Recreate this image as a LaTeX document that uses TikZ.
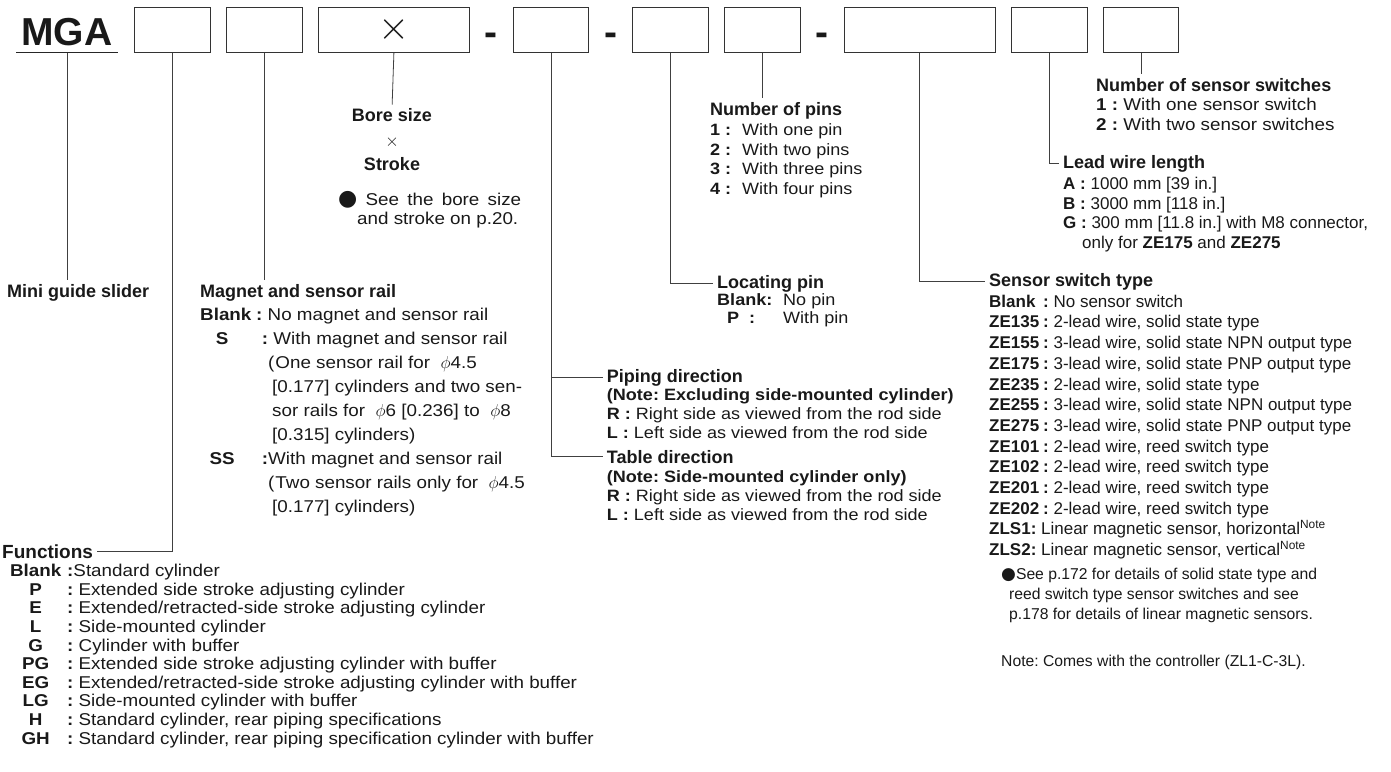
\documentclass[tikz,border=0pt]{standalone}
\usepackage{fontspec}
\setmainfont{Liberation Sans}
\newfontfamily\widefamily{Liberation Sans}[FakeStretch=1.1]
\newfontfamily\shapefont{DejaVu Sans}
\usetikzlibrary{positioning,calc}
\frenchspacing

\begin{document}
\begin{tikzpicture}[x=1pt, y=-1pt,
  every node/.style={text=black!90},
  codebox/.style={draw=black!80, line width=1pt, minimum width=75.5pt, minimum height=45pt, inner sep=0pt},
  widebox/.style={codebox, minimum width=151pt},
  sepmark/.style={font=\bfseries\fontsize{39}{39}\selectfont, inner sep=0pt, anchor=base},
  head/.style={font=\bfseries\fontsize{18}{20}\selectfont, anchor=base west, inner sep=0pt},
  list/.style={font=\widefamily\fontsize{16.4}{#1}\selectfont, align=left, anchor=north west, inner sep=0pt},
  list/.default=19,
  widelist/.style={list, font=\widefamily\fontsize{17.1}{#1}\selectfont},
  widelist/.default=19,
  smalllist/.style={list, font=\fontsize{17}{#1}\selectfont},
  smalllist/.default=20,
  conn/.style={draw=black!75, line width=0.8pt, shorten >=4pt}
]
\useasboundingbox (0,0) rectangle (1391,771);

% model code row
\node[font=\bfseries\fontsize{39}{39}\selectfont, anchor=base, inner xsep=5pt, inner ysep=0pt, text depth=7.3pt] (mga) at (67,45) {MGA};
\draw[line width=0.9pt, black!85] (mga.south west) -- (mga.south east);
\node[codebox] (b1) at (172.55,29.8) {};
\node[codebox, right=15.3pt of b1] (b2) {};
\node[widebox, right=15.3pt of b2] (b3) {\scalebox{4}{$\times$}};
\node[codebox, right=43pt of b3] (b4) {};
\node[codebox, right=43pt of b4] (b5) {};
\node[codebox, right=15.3pt of b5] (b6) {};
\node[widebox, right=43pt of b6] (b7) {};
\node[codebox, right=15.3pt of b7] (b8) {};
\node[codebox, right=15.3pt of b8] (b9) {};
\node[sepmark] (d1) at ($(b3.east)!0.5!(b4.west)+(0,15.2)$) {-};
\node[sepmark] (d2) at ($(b4.east)!0.5!(b5.west)+(0,15.2)$) {-};
\node[sepmark] (d3) at ($(b6.east)!0.5!(b7.west)+(0,15.2)$) {-};

% headings
\node[head] (slider) at (7,297) {Mini guide slider};
\node[head] (magnet) at (200,297) {Magnet and sensor rail};
\node[head, font=\bfseries\fontsize{19}{20}\selectfont] (functions) at (2,558) {Functions};
\node[head, anchor=north, align=center, font=\bfseries\fontsize{18}{24.5}\selectfont] (bore) at (392,108.5) {Bore size\\{\mdseries$\times$}\\Stroke};
\node[head] (piping) at (606.7,382) {Piping direction};
\node[head] (table) at (606.7,463) {Table direction};
\node[head] (locating) at (717,288) {Locating pin};
\node[head] (pins) at (710,115) {Number of pins};
\node[head] (sensor) at (989,286) {Sensor switch type};
\node[head] (lead) at (1063,168) {Lead wire length};
\node[head] (nsw) at (1096,91) {Number of sensor switches};

% lists
\node[below=11.3pt of magnet.base west, widelist=24] (maglist) {%
\makebox[56pt][l]{\bfseries Blank}\textbf{:} No magnet and sensor rail\\
\makebox[44pt][c]{\bfseries S}\makebox[24pt][r]{\textbf{:}} With magnet and sensor rail\\
\hspace*{68pt}(\hspace{1pt}One sensor rail for \ $\phi$4.5\\
\hspace*{72pt}[0.177] cylinders and two sen-\\
\hspace*{72pt}sor rails for \ $\phi$6 [0.236] to \ $\phi$8\\
\hspace*{72pt}[0.315] cylinders)\\
\makebox[44pt][c]{\bfseries SS}\makebox[24pt][r]{\textbf{:}}With magnet and sensor rail\\
\hspace*{68pt}(\hspace{1pt}Two sensor rails only for \ $\phi$4.5\\
\hspace*{72pt}[0.177] cylinders)};

\node[below=6pt of functions.base west, widelist=18.6, xshift=2pt] (funclist) {%
\makebox[63pt][c]{\bfseries Blank}\textbf{:}Standard cylinder\\
\makebox[63pt][c]{\bfseries P}\textbf{:} Extended side stroke adjusting cylinder\\
\makebox[63pt][c]{\bfseries E}\textbf{:} Extended/retracted-side stroke adjusting cylinder\\
\makebox[63pt][c]{\bfseries L}\textbf{:} Side-mounted cylinder\\
\makebox[63pt][c]{\bfseries G}\textbf{:} Cylinder with buffer\\
\makebox[63pt][c]{\bfseries PG}\textbf{:} Extended side stroke adjusting cylinder with buffer\\
\makebox[63pt][c]{\bfseries EG}\textbf{:} Extended/retracted-side stroke adjusting cylinder with buffer\\
\makebox[63pt][c]{\bfseries LG}\textbf{:} Side-mounted cylinder with buffer\\
\makebox[63pt][c]{\bfseries H}\textbf{:} Standard cylinder, rear piping specifications\\
\makebox[63pt][c]{\bfseries GH}\textbf{:} Standard cylinder, rear piping specification cylinder with buffer};

\node[widelist=19] (borenote) at (338,191.5) {%
\makebox[183pt][s]{{\shapefont\fontsize{22}{19}\selectfont ●}\ See\ the\ bore\ size}\\
\hspace*{19pt}and stroke on p.20.};

\node[below=6.5pt of piping.base west, list=19] (pipelist) {%
\textbf{(Note: Excluding side-mounted cylinder)}\\
\textbf{R :} Right side as viewed from the rod side\\
\textbf{L :} Left side as viewed from the rod side};
\node[below=7pt of table.base west, list=19] (tablelist) {%
\textbf{(Note: Side-mounted cylinder only)}\\
\textbf{R :} Right side as viewed from the rod side\\
\textbf{L :} Left side as viewed from the rod side};

\node[below=8.5pt of pins.base west, list=19.7] (pinlist) {%
\makebox[32pt][l]{\textbf{1 :}}With one pin\\
\makebox[32pt][l]{\textbf{2 :}}With two pins\\
\makebox[32pt][l]{\textbf{3 :}}With three pins\\
\makebox[32pt][l]{\textbf{4 :}}With four pins};

\node[below=5.5pt of locating.base west, list=18] (loclist) {%
\makebox[66pt][l]{\textbf{Blank:}}No pin\\
\makebox[32pt][c]{\textbf{P}}\makebox[34pt][l]{\textbf{:}}With pin};

\node[below=7pt of nsw.base west, widelist=20] (nswlist) {%
\textbf{1 :} With one sensor switch\\
\textbf{2 :} With two sensor switches};

\node[below=9pt of lead.base west, smalllist=19.5] (leadlist) {%
\textbf{A :} 1000 mm [39 in.]\\
\textbf{B :} 3000 mm [118 in.]\\
\textbf{G :} 300 mm [11.8 in.] with M8 connector,\\
\hspace*{19pt}only for \textbf{ZE175} and \textbf{ZE275}};

\node[below=8.7pt of sensor.base west, smalllist=20.7] (senslist) {%
\makebox[54pt][l]{\bfseries Blank}\textbf{:} No sensor switch\\
\makebox[54pt][l]{\bfseries ZE135}\textbf{:} 2-lead wire, solid state type\\
\makebox[54pt][l]{\bfseries ZE155}\textbf{:} 3-lead wire, solid state NPN output type\\
\makebox[54pt][l]{\bfseries ZE175}\textbf{:} 3-lead wire, solid state PNP output type\\
\makebox[54pt][l]{\bfseries ZE235}\textbf{:} 2-lead wire, solid state type\\
\makebox[54pt][l]{\bfseries ZE255}\textbf{:} 3-lead wire, solid state NPN output type\\
\makebox[54pt][l]{\bfseries ZE275}\textbf{:} 3-lead wire, solid state PNP output type\\
\makebox[54pt][l]{\bfseries ZE101}\textbf{:} 2-lead wire, reed switch type\\
\makebox[54pt][l]{\bfseries ZE102}\textbf{:} 2-lead wire, reed switch type\\
\makebox[54pt][l]{\bfseries ZE201}\textbf{:} 2-lead wire, reed switch type\\
\makebox[54pt][l]{\bfseries ZE202}\textbf{:} 2-lead wire, reed switch type\\
\textbf{ZLS1:} Linear magnetic sensor, horizontal\textsuperscript{Note}\\
\textbf{ZLS2:} Linear magnetic sensor, vertical\textsuperscript{Note}};

\node[below=9pt of senslist.south west, smalllist=20, font=\fontsize{15.7}{20}\selectfont, xshift=12pt] (sensnote) {%
{\shapefont\fontsize{17}{17}\selectfont ●}See p.172 for details of solid state type and\\
\hspace*{8pt}reed switch type sensor switches and see\\
\hspace*{8pt}p.178 for details of linear magnetic sensors.};
\node[below=32pt of sensnote.south west, smalllist=20, font=\fontsize{15.7}{20}\selectfont] (note) {Note: Comes with the controller (ZL1-C-3L).};

% connectors
\draw[conn] (mga.south) -- (mga.south |- slider.north);
\draw[conn] (b1.south) |- (functions.east);
\draw[conn] (b2.south) -- (b2.south |- magnet.north);
\draw[conn] (b3.south) -- (bore.north);
\draw[conn] (b4.south) |- (piping.west);
\draw[conn] (b4.south) |- (table.west);
\draw[conn] (b5.south) |- (locating.west);
\draw[conn] (b6.south) -- (b6.south |- pins.north);
\draw[conn] (b7.south) |- (sensor.west);
\draw[conn] (b8.south) |- (lead.west);
\draw[conn] (b9.south) -- (b9.south |- nsw.north);
\end{tikzpicture}
\end{document}
